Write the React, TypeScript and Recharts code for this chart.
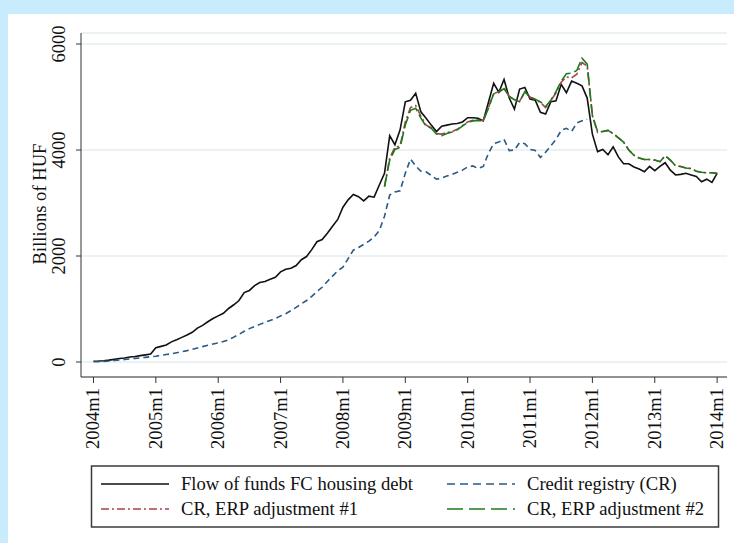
import React from 'react'
import { LineChart, Line, XAxis, YAxis, CartesianGrid } from 'recharts'

// x tick labels, one per January
const tickLabels = ['2004m1', '2005m1', '2006m1', '2007m1', '2008m1', '2009m1', '2010m1', '2011m1', '2012m1', '2013m1', '2014m1']
const yTicks = [0, 2000, 4000, 6000]

// Flow of funds FC housing debt, monthly 2004m1..2014m1
const flowOfFunds = [
  15, 18, 25, 35, 50, 65, 75, 95, 105, 120, 135, 150,
  270, 295, 320, 380, 420, 465, 510, 560, 640, 690, 760, 820,
  870, 920, 1010, 1080, 1160, 1310, 1350, 1440, 1500, 1520, 1560, 1600,
  1700, 1750, 1770, 1820, 1930, 1990, 2120, 2270, 2310, 2430, 2560, 2690,
  2920, 3060, 3160, 3120, 3040, 3130, 3110, 3340, 3560, 4270, 4100, 4380,
  4910, 4940, 5070, 4720, 4600, 4470, 4350, 4450, 4470, 4490, 4500, 4530,
  4610, 4610, 4600, 4550, 4900, 5260, 5090, 5330, 4980, 4770, 5150, 5180,
  4960, 4940, 4710, 4680, 4910, 4930, 5240, 5080, 5300, 5260, 5210, 4980,
  4300, 3970, 4010, 3910, 4060, 3870, 3740, 3740, 3680, 3640, 3590, 3690,
  3610, 3690, 3760, 3620, 3530, 3540, 3560, 3530, 3500, 3400, 3450, 3390,
  3560,
]

// Credit registry (CR), 2004m1..2011m12
const creditRegistry = [
  5, 8, 12, 18, 28, 38, 48, 58, 68, 78, 88, 100,
  110, 125, 140, 155, 175, 195, 215, 240, 265, 290, 315, 340,
  360, 385, 420, 470, 520, 580, 630, 670, 710, 750, 785, 820,
  870, 910, 970, 1030, 1100, 1160, 1240, 1330, 1410, 1520, 1620, 1720,
  1790, 1950, 2110, 2160, 2220, 2280, 2360, 2480, 2750, 3150, 3210, 3230,
  3560, 3830, 3700, 3600, 3590, 3520, 3450, 3470, 3510, 3540, 3580, 3620,
  3680, 3700, 3650, 3690, 3940, 4120, 4150, 4200, 3990, 4000, 4140, 4120,
  4010, 3990, 3860, 3960, 4080, 4200, 4370, 4410, 4350, 4510, 4550, 4580,
]

// ERP adjusted series start in 2008m9
const ADJ_START = 56
const erpAdj1 = [
  3310, 3850, 4050, 4080, 4530, 4800, 4840, 4640, 4470, 4420, 4310, 4300,
  4330, 4350, 4390, 4460, 4530, 4560, 4570, 4560, 4800, 5070, 5100, 5170,
  5010, 4950, 4920, 5100, 5000, 4950, 4900, 4800, 4930, 5080, 5280, 5380,
  5360, 5430, 5650, 5580, 4650, 4330, 4350, 4370, 4310, 4230, 4150, 4000,
  3900, 3850, 3820, 3820, 3810, 3780, 3890, 3810, 3700, 3690, 3660, 3650,
  3600, 3580, 3570, 3570, 3560,
]
const erpAdj2 = [
  3310, 3810, 4010, 4050, 4470, 4750, 4790, 4600, 4450, 4410, 4300, 4270,
  4310, 4340, 4380, 4450, 4520, 4550, 4560, 4550, 4790, 5060, 5090, 5160,
  5010, 4950, 4910, 5100, 5000, 4960, 4910, 4820, 4940, 5100, 5300, 5440,
  5450, 5500, 5730, 5620, 4650, 4350, 4350, 4370, 4310, 4230, 4150, 4000,
  3900, 3850, 3820, 3820, 3810, 3780, 3890, 3810, 3700, 3690, 3660, 3650,
  3600, 3580, 3570, 3570, 3560,
]

const FONT = '"Liberation Serif", "Times New Roman", serif'
const FONT_SIZE = 18.6
const BLACK = '#111111'
const NAVY = '#2a5a86'
const MAROON = '#a8424c'
const GREEN = '#1b7a1b'

const data = flowOfFunds.map((v, i) => ({
  m: i,
  fof: v,
  cr: i < creditRegistry.length ? creditRegistry[i] : null,
  adj1: i >= ADJ_START ? erpAdj1[i - ADJ_START] : null,
  adj2: i >= ADJ_START ? erpAdj2[i - ADJ_START] : null,
}))

const XTick = ({ x, payload }: any) => {
  const label = tickLabels[payload.value / 12]
  const bx = x + 6
  const by = 388
  return (
    <text x={bx} y={by} transform={`rotate(-90, ${bx}, ${by})`} textAnchor="end" fontFamily={FONT} fontSize={FONT_SIZE} fill={BLACK}>
      {label}
    </text>
  )
}

const YTick = ({ y, payload }: any) => {
  const bx = 65
  return (
    <text x={bx} y={y} transform={`rotate(-90, ${bx}, ${y})`} textAnchor="middle" fontFamily={FONT} fontSize={FONT_SIZE} fill={BLACK}>
      {payload.value}
    </text>
  )
}

const legendItems = [
  { label: 'Flow of funds FC housing debt', color: BLACK, dash: undefined, x: 101, y: 484 },
  { label: 'Credit registry (CR)', color: NAVY, dash: '8 5', x: 447, y: 484 },
  { label: 'CR, ERP adjustment #1', color: MAROON, dash: '8 3 2 3', x: 101, y: 509 },
  { label: 'CR, ERP adjustment #2', color: GREEN, dash: '16 6', x: 447, y: 509 },
]

export default function App() {
  return (
    <div style={{ position: 'absolute', left: 0, top: 0, width: 734, height: 543, background: '#c8ecfb', overflow: 'hidden' }}>
      <div style={{ position: 'absolute', left: 8, top: 14, width: 726, height: 529, background: '#ffffff' }} />
      <div style={{ position: 'absolute', left: 0, top: 0 }}>
        <LineChart width={734} height={543} data={data} margin={{ top: 33, right: 7, left: 21, bottom: 106 }}>
          <CartesianGrid vertical={false} stroke="#e3eef1" strokeWidth={1.3} />
          <XAxis
            dataKey="m"
            type="number"
            domain={[-2.4, 121.9]}
            ticks={[0, 12, 24, 36, 48, 60, 72, 84, 96, 108, 120]}
            allowDataOverflow
            height={60}
            stroke="#333333"
            tickSize={6}
            tick={<XTick />}
          />
          <YAxis
            type="number"
            domain={[-283, 6208]}
            ticks={yTicks}
            allowDataOverflow
            width={60}
            stroke="#333333"
            tickSize={5}
            tick={<YTick />}
          />
          <Line dataKey="fof" type="linear" stroke={BLACK} strokeWidth={1.6} dot={false} isAnimationActive={false} />
          <Line dataKey="cr" type="linear" stroke={NAVY} strokeWidth={1.6} strokeDasharray="6 4" dot={false} isAnimationActive={false} />
          <Line dataKey="adj1" type="linear" stroke={MAROON} strokeWidth={1.6} strokeDasharray="8 3 2 3" dot={false} isAnimationActive={false} />
          <Line dataKey="adj2" type="linear" stroke={GREEN} strokeWidth={1.6} strokeDasharray="12 4" dot={false} isAnimationActive={false} />
        </LineChart>
      </div>
      {/* y axis title */}
      <svg width={734} height={543} style={{ position: 'absolute', left: 0, top: 0, pointerEvents: 'none' }}>
        <text x={46} y={204} transform="rotate(-90, 46, 204)" textAnchor="middle" fontFamily={FONT} fontSize={FONT_SIZE} fill={BLACK}>
          Billions of HUF
        </text>
        {/* legend */}
        <rect x={91.5} y={466} width={627} height={61} fill="#ffffff" stroke="#3a3a3a" strokeWidth={1.5} />
        {legendItems.map((item) => (
          <g key={item.label}>
            <line x1={item.x} x2={item.x + 68} y1={item.y} y2={item.y} stroke={item.color} strokeWidth={1.6} strokeDasharray={item.dash} />
            <text x={item.x + 80} y={item.y + 6} fontFamily={FONT} fontSize={FONT_SIZE} fill={BLACK}>
              {item.label}
            </text>
          </g>
        ))}
      </svg>
    </div>
  )
}
